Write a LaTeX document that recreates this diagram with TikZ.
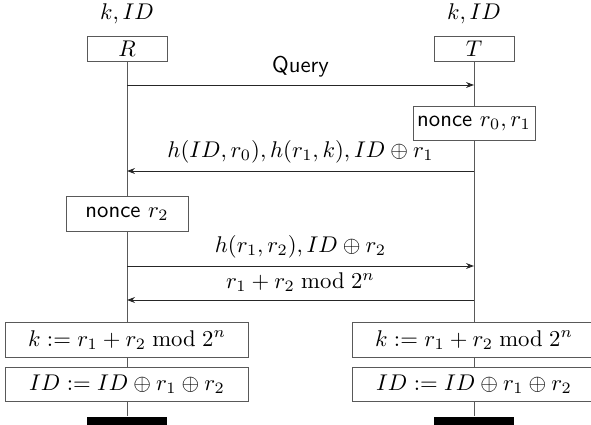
\documentclass[tikz,border=0pt]{standalone}
\usepackage{amsmath,amssymb}
\usepackage{tikz}
\usetikzlibrary{arrows.meta}
\tikzset{
  inst/.style={draw=black!65, fill=white, minimum width=35.2pt, minimum height=11.4pt, inner sep=1pt},
  act/.style={draw=black!65, fill=white, minimum width=53.7pt, minimum height=15.2pt, inner sep=1pt},
  upd/.style={draw=black!65, fill=white, minimum width=107pt, minimum height=15pt, inner sep=1pt},
  bar/.style={draw=none, fill=black, minimum width=35.2pt, minimum height=3.6pt, inner sep=0pt},
  life/.style={draw=black!65},
  msg/.style={draw=black!85, -{Stealth[length=3.5pt,width=2.6pt]}}
}
\begin{document}
\begin{tikzpicture}[x=0.44pt, y=-0.44pt]
                \useasboundingbox (0,0) rectangle (591,425);
                % instances
                \node (kR) at (127,14) {$k, ID$};
                \node (kT) at (474,14) {$k, ID$};
                \node[inst] (R) at (127,49) {$R$};
                \node[inst] (T) at (474,49) {$T$};

                % actions
                \node[act] (nT) at (474,123.5) {\textsf{nonce} $r_0, r_1$};
                \node[act] (nR) at (127,214) {\textsf{nonce} $r_2$};

                % updates
                \node[upd] (kupR) at (127,340) {$k := r_1 + r_2 \bmod 2^n$};
                \node[upd] (idupR) at (127,384.5) {$ID := ID \oplus r_1 \oplus r_2$};
                \node[upd] (kupT) at (474,340) {$k := r_1 + r_2 \bmod 2^n$};
                \node[upd] (idupT) at (474,384.5) {$ID := ID \oplus r_1 \oplus r_2$};

                % ends
                \node[bar] (endR) at (127,421) {};
                \node[bar] (endT) at (474,421) {};

                % lifelines
                \draw[life] (R) -- (nR) -- (kupR) -- (idupR) -- (endR);
                \draw[life] (T) -- (nT) -- (kupT) -- (idupT) -- (endT);

                % messages
                \coordinate (m1R) at (127,85);
                \coordinate (m1T) at (474,85);
                \coordinate (m2R) at (127,171);
                \coordinate (m2T) at (474,171);
                \coordinate (m3R) at (127,266);
                \coordinate (m3T) at (474,266);
                \coordinate (m4R) at (127,300);
                \coordinate (m4T) at (474,300);

                \draw[msg] (m1R) -- node[above] {\textsf{Query}} (m1T);
                \draw[msg] (m2T) -- node[above] {$h(ID, r_0), h(r_1, k), ID \oplus r_1$} (m2R);
                \draw[msg] (m3R) -- node[above] {$h(r_1, r_2), ID \oplus r_2$} (m3T);
                \draw[msg] (m4T) -- node[above] {$r_1 + r_2 \bmod 2^n$} (m4R);
\end{tikzpicture}
\end{document}
